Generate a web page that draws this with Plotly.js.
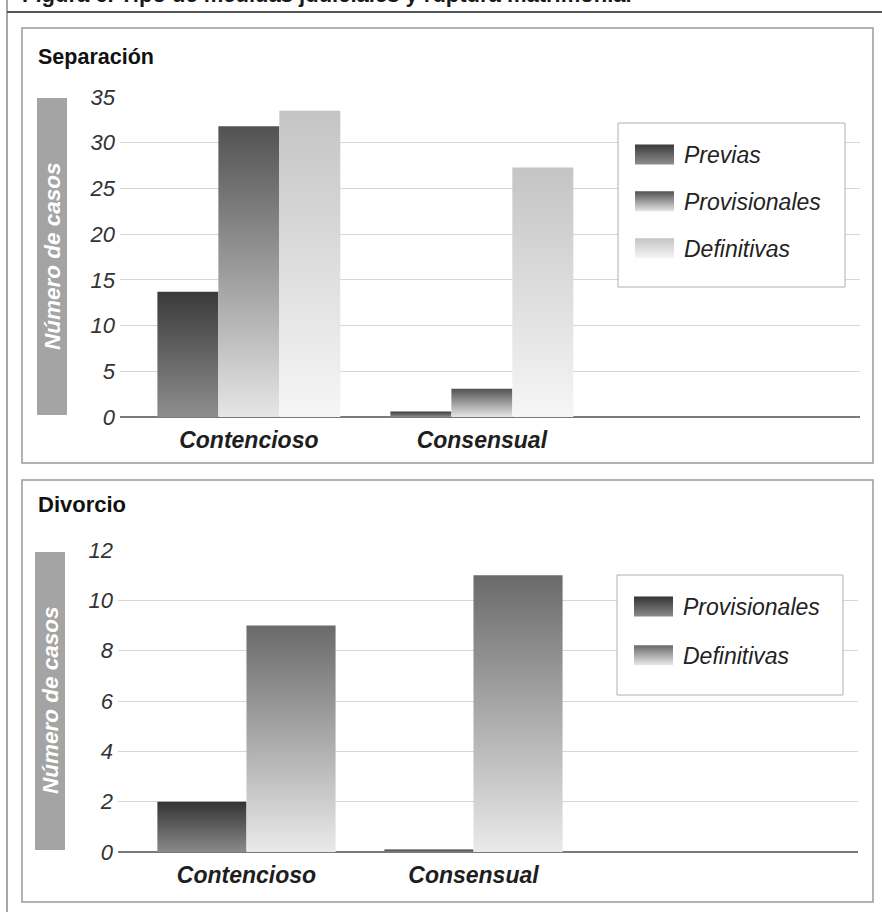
<!DOCTYPE html>
<html>
<head>
<meta charset="utf-8">
<script src="https://cdn.plot.ly/plotly-3.0.1.min.js"></script>
<style>
  html, body { margin: 0; padding: 0; background: #ffffff; }
  #chart { width: 882px; height: 912px; }
</style>
</head>
<body>
<div id="chart"></div>
<script>
// Categories and values (number of cases)
const categories = ['Contencioso', 'Consensual'];

const sepPrevias        = [13.7, 0.6];
const sepProvisionales  = [31.8, 3.1];
const sepDefinitivas    = [33.5, 27.3];

const divProvisionales  = [2.0, 0.1];
const divDefinitivas    = [9.0, 11.0];

const sepTicks = [0, 5, 10, 15, 20, 25, 30, 35];
const divTicks = [0, 2, 4, 6, 8, 10, 12];

// Vertical shading (top colour, bottom colour) for each series, in trace order
const shades = [
  ['#3a3a3a', '#8e8e8e'],
  ['#525252', '#e6e6e6'],
  ['#c4c4c4', '#f6f6f6'],
  ['#333333', '#8a8a8a'],
  ['#6a6a6a', '#eaeaea']
];

const W = 882, H = 912;
const px = x => x / W;
const py = y => 1 - y / H;

const FONT = 'Liberation Sans, Arial, Helvetica, sans-serif';

function bar(name, y, xa, ya, legend, group) {
  return {
    type: 'bar', name: name, x: categories, y: y,
    xaxis: xa, yaxis: ya, legend: legend, legendgroup: group,
    marker: { color: '#888888', line: { width: 0 } },
    hoverinfo: 'skip'
  };
}

const data = [
  bar('Previas', sepPrevias, 'x', 'y', 'legend', 'a'),
  bar('Provisionales', sepProvisionales, 'x', 'y', 'legend', 'b'),
  bar('Definitivas', sepDefinitivas, 'x', 'y', 'legend', 'c'),
  bar('Provisionales', divProvisionales, 'x2', 'y2', 'legend2', 'd'),
  bar('Definitivas', divDefinitivas, 'x2', 'y2', 'legend2', 'e')
];

const xTickFont = { family: FONT, size: 23, color: '#1e1e1e', weight: 'bold', style: 'italic' };
const yTickFont = { family: FONT, size: 22, color: '#333333', style: 'italic' };

function xAxis(domain, range, anchor) {
  return {
    domain: domain, anchor: anchor, type: 'category', range: range,
    showgrid: false, showline: false, zeroline: false, ticks: '',
    tickfont: xTickFont, ticklabelstandoff: 7, fixedrange: true
  };
}
function yAxis(domain, range, ticks, anchor) {
  return {
    domain: domain, anchor: anchor, range: range,
    tickmode: 'array', tickvals: ticks, ticktext: ticks.map(String),
    showgrid: true, gridcolor: '#d6d6d6', gridwidth: 1,
    zeroline: true, zerolinecolor: '#7a7a7a', zerolinewidth: 2,
    showline: false, ticks: '', tickfont: yTickFont, ticklabelstandoff: 4,
    fixedrange: true
  };
}

const legendFont = { family: FONT, size: 23, color: '#222222', style: 'italic' };

const layout = {
  width: W, height: H,
  margin: { l: 0, r: 0, t: 0, b: 0 },
  paper_bgcolor: '#ffffff', plot_bgcolor: 'rgba(0,0,0,0)',
  showlegend: true,
  barmode: 'group',
  bargap: 0.215,
  bargroupgap: 0,
  xaxis:  xAxis([px(120), px(860)], [-0.553, 2.623], 'y'),
  yaxis:  yAxis([py(417), py(97)], [0, 35], sepTicks, 'x'),
  xaxis2: xAxis([px(118), px(858)], [-0.566, 2.694], 'y2'),
  yaxis2: yAxis([py(852), py(550)], [0, 12], divTicks, 'x2'),
  legend: {
    x: px(624), y: py(133), xanchor: 'left', yanchor: 'top',
    bgcolor: 'rgba(0,0,0,0)', borderwidth: 0,
    font: legendFont, itemwidth: 50, tracegroupgap: 14, traceorder: 'grouped'
  },
  legend2: {
    x: px(623), y: py(585), xanchor: 'left', yanchor: 'top',
    bgcolor: 'rgba(0,0,0,0)', borderwidth: 0,
    font: legendFont, itemwidth: 50, tracegroupgap: 16, traceorder: 'grouped'
  },
  shapes: [
    // page frame: left rule and header rule
    { type: 'line', xref: 'paper', yref: 'paper', x0: px(7), x1: px(7), y0: 0, y1: 1,
      line: { color: '#8a8a8a', width: 1.5 }, layer: 'below' },
    { type: 'line', xref: 'paper', yref: 'paper', x0: px(7), x1: 1, y0: py(12), y1: py(12),
      line: { color: '#555555', width: 2 }, layer: 'below' },
    // panel frames
    { type: 'rect', xref: 'paper', yref: 'paper', x0: px(22), x1: px(873), y0: py(463), y1: py(28),
      line: { color: '#9a9a9a', width: 1.5 }, fillcolor: 'rgba(0,0,0,0)', layer: 'below' },
    { type: 'rect', xref: 'paper', yref: 'paper', x0: px(22), x1: px(873), y0: py(902), y1: py(480),
      line: { color: '#9a9a9a', width: 1.5 }, fillcolor: 'rgba(0,0,0,0)', layer: 'below' },
    // grey bands behind the y-axis titles
    { type: 'rect', xref: 'paper', yref: 'paper', x0: px(37), x1: px(67), y0: py(415), y1: py(98),
      line: { width: 0 }, fillcolor: '#a4a4a4', layer: 'below' },
    { type: 'rect', xref: 'paper', yref: 'paper', x0: px(35), x1: px(65), y0: py(850), y1: py(552),
      line: { width: 0 }, fillcolor: '#a4a4a4', layer: 'below' },
    // legend boxes
    { type: 'rect', xref: 'paper', yref: 'paper', x0: px(618), x1: px(845), y0: py(287), y1: py(123),
      line: { color: '#b0b0b0', width: 1 }, fillcolor: '#ffffff', layer: 'above' },
    { type: 'rect', xref: 'paper', yref: 'paper', x0: px(617), x1: px(843), y0: py(695), y1: py(575),
      line: { color: '#b0b0b0', width: 1 }, fillcolor: '#ffffff', layer: 'above' }
  ],
  annotations: [
    { text: 'Figura 6. Tipo de medidas judiciales y ruptura matrimonial',
      xref: 'paper', yref: 'paper', x: px(20), y: py(9), xanchor: 'left', yanchor: 'bottom',
      showarrow: false, font: { family: FONT, size: 22, color: '#1a1a1a', weight: 'bold' } },
    { text: 'Separación', xref: 'paper', yref: 'paper', x: px(36), y: py(57),
      xanchor: 'left', yanchor: 'middle', showarrow: false,
      font: { family: FONT, size: 21.5, color: '#111111', weight: 'bold' } },
    { text: 'Divorcio', xref: 'paper', yref: 'paper', x: px(36), y: py(504),
      xanchor: 'left', yanchor: 'middle', showarrow: false,
      font: { family: FONT, size: 22, color: '#111111', weight: 'bold' } },
    { text: 'Número de casos', xref: 'paper', yref: 'paper', x: px(52), y: py(256),
      xanchor: 'center', yanchor: 'middle', textangle: -90, showarrow: false,
      font: { family: FONT, size: 22.5, color: '#ffffff', weight: 'bold', style: 'italic' } },
    { text: 'Número de casos', xref: 'paper', yref: 'paper', x: px(50), y: py(700),
      xanchor: 'center', yanchor: 'middle', textangle: -90, showarrow: false,
      font: { family: FONT, size: 22.5, color: '#ffffff', weight: 'bold', style: 'italic' } }
  ]
};

// Paint each bar and legend swatch with a vertical shade of its series colour
function applyShading(gd) {
  const ns = 'http://www.w3.org/2000/svg';
  const svg = gd.querySelector('svg.main-svg');
  let defs = svg.querySelector('defs');
  if (!defs) { defs = document.createElementNS(ns, 'defs'); svg.insertBefore(defs, svg.firstChild); }
  shades.forEach((pair, i) => {
    const g = document.createElementNS(ns, 'linearGradient');
    g.setAttribute('id', 'shade' + i);
    g.setAttribute('x1', '0'); g.setAttribute('y1', '0');
    g.setAttribute('x2', '0'); g.setAttribute('y2', '1');
    [[0, pair[0]], [1, pair[1]]].forEach(([o, c]) => {
      const s = document.createElementNS(ns, 'stop');
      s.setAttribute('offset', o); s.setAttribute('stop-color', c);
      g.appendChild(s);
    });
    defs.appendChild(g);
  });
  gd.querySelectorAll('.barlayer .trace').forEach(g => {
    const cd = g.__data__;
    const idx = cd && cd[0] && cd[0].trace ? cd[0].trace.index : null;
    if (idx === null) return;
    g.querySelectorAll('path').forEach(p => { p.style.fill = 'url(#shade' + idx + ')'; });
  });
  gd.querySelectorAll('.infolayer .traces').forEach(g => {
    const d = g.__data__;
    let tr = null;
    if (d && d[0]) tr = d[0].trace || (d[0][0] && d[0][0].trace);
    if (!tr) return;
    g.querySelectorAll('.legendpoints path').forEach(p => {
      p.setAttribute('d', 'M-19,-10H20V10H-19Z');
      p.style.fill = 'url(#shade' + tr.index + ')';
      p.style.stroke = 'none';
    });
  });
}

Plotly.newPlot('chart', data, layout, { staticPlot: true, displayModeBar: false })
  .then(applyShading);
</script>
</body>
</html>
